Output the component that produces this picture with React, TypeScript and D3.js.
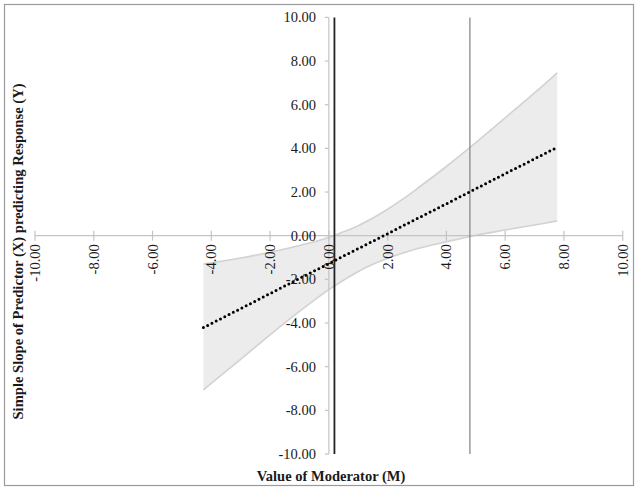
import React, { useEffect, useRef } from 'react'
import * as d3 from 'd3'

// values
const moderatorValues = [-4.27, -3, -2, -1, 0, 0.5, 1, 1.5, 2, 2.5, 3, 4, 5, 6, 7, 7.77]
const slopeValues = [-4.21, -3.34, -2.65, -1.96, -1.28, -0.93, -0.59, -0.25, 0.09, 0.44, 0.78, 1.46, 2.15, 2.84, 3.52, 4.05]
const upperCI = [-1.3, -1.02, -0.76, -0.45, -0.08, 0.18, 0.46, 0.81, 1.21, 1.66, 2.15, 3.17, 4.26, 5.4, 6.54, 7.46]
const lowerCI = [-7.06, -5.66, -4.54, -3.47, -2.47, -2.04, -1.64, -1.31, -1.03, -0.8, -0.6, -0.28, 0.02, 0.26, 0.49, 0.68]
const regionBounds = [0.19, 4.8]
const axisTicks = [-10, -8, -6, -4, -2, 0, 2, 4, 6, 8, 10]
const xTitle = 'Value of Moderator (M)'
const yTitle = 'Simple Slope of Predictor (X) predicting Response (Y)'

const W = 638
const H = 489
const FONT = '"Liberation Serif", "Times New Roman", serif'

export default function App() {
  const ref = useRef<SVGSVGElement>(null)

  useEffect(() => {
    const svg = d3.select(ref.current)
    svg.selectAll('*').remove()

    const x = d3.scaleLinear().domain([-10, 10]).range([35, 622.7])
    const y = d3.scaleLinear().domain([-10, 10]).range([454, 17.4])
    // plain hyphen minus like the original, not d3's unicode minus
    const fmt = (d: number) => d.toFixed(2)

    // frame
    svg.append('rect')
      .attr('x', 4.5).attr('y', 4.5)
      .attr('width', 629).attr('height', 481)
      .attr('fill', 'white')
      .attr('stroke', '#9a9a9a')
      .attr('stroke-width', 1.2)

    const pts = moderatorValues.map((m, i) => ({ m, v: slopeValues[i], lo: lowerCI[i], hi: upperCI[i] }))

    // confidence band
    const area = d3.area<any>()
      .x(d => x(d.m))
      .y0(d => y(d.lo))
      .y1(d => y(d.hi))
      .curve(d3.curveCatmullRom)
    svg.append('path')
      .attr('d', area(pts))
      .attr('fill', '#ececec')

    const edge = (key: string) => d3.line<any>()
      .x(d => x(d.m))
      .y(d => y(d[key]))
      .curve(d3.curveCatmullRom)
    ;['hi', 'lo'].forEach(k => {
      svg.append('path')
        .attr('d', edge(k)(pts))
        .attr('fill', 'none')
        .attr('stroke', '#d2d2d2')
        .attr('stroke-width', 1.6)
    })

    // x axis
    svg.append('line')
      .attr('x1', x(-10)).attr('x2', x(10))
      .attr('y1', y(0)).attr('y2', y(0))
      .attr('stroke', '#c4c4c4').attr('stroke-width', 1.2)
    svg.selectAll('.xtick')
      .data(axisTicks)
      .enter()
      .append('line')
      .attr('class', 'xtick')
      .attr('x1', d => x(d)).attr('x2', d => x(d))
      .attr('y1', y(0) - 5).attr('y2', y(0) + 5)
      .attr('stroke', '#c4c4c4').attr('stroke-width', 1.2)

    // y axis
    svg.append('line')
      .attr('x1', x(0)).attr('x2', x(0))
      .attr('y1', y(10)).attr('y2', y(-10))
      .attr('stroke', '#c4c4c4').attr('stroke-width', 1.2)
    svg.selectAll('.ytick')
      .data(axisTicks)
      .enter()
      .append('line')
      .attr('class', 'ytick')
      .attr('x1', x(0) - 4).attr('x2', x(0))
      .attr('y1', d => y(d)).attr('y2', d => y(d))
      .attr('stroke', '#c4c4c4').attr('stroke-width', 1.2)

    // region boundaries
    svg.append('line')
      .attr('x1', x(regionBounds[0])).attr('x2', x(regionBounds[0]))
      .attr('y1', y(10)).attr('y2', y(-10))
      .attr('stroke', '#222').attr('stroke-width', 1.8)
    svg.append('line')
      .attr('x1', x(regionBounds[1])).attr('x2', x(regionBounds[1]))
      .attr('y1', y(10)).attr('y2', y(-10))
      .attr('stroke', '#808080').attr('stroke-width', 1.2)

    // simple slope line
    const line = d3.line<any>().x(d => x(d.m)).y(d => y(d.v))
    svg.append('path')
      .attr('d', line(pts))
      .attr('fill', 'none')
      .attr('stroke', '#000')
      .attr('stroke-width', 3)
      .attr('stroke-linecap', 'round')
      .attr('stroke-dasharray', '0 4.8')

    // tick labels
    svg.selectAll('.ylab')
      .data(axisTicks)
      .enter()
      .append('text')
      .attr('class', 'ylab')
      .attr('x', 316)
      .attr('y', d => y(d))
      .attr('dominant-baseline', 'central')
      .attr('text-anchor', 'end')
      .attr('font-family', FONT)
      .attr('font-size', 14.5)
      .attr('fill', '#1a1a1a')
      .text(d => fmt(d))

    svg.selectAll('.xlab')
      .data(axisTicks)
      .enter()
      .append('text')
      .attr('class', 'xlab')
      .attr('transform', d => `translate(${x(d)},${y(0) + 8.5}) rotate(-90)`)
      .attr('dominant-baseline', 'central')
      .attr('text-anchor', 'end')
      .attr('font-family', FONT)
      .attr('font-size', 14.5)
      .attr('fill', '#1a1a1a')
      .text(d => fmt(d))

    // titles
    svg.append('text')
      .attr('x', 331).attr('y', 476)
      .attr('dominant-baseline', 'central')
      .attr('text-anchor', 'middle')
      .attr('font-family', FONT)
      .attr('font-weight', 'bold')
      .attr('font-size', 14.5)
      .attr('fill', '#1a1a1a')
      .text(xTitle)
    svg.append('text')
      .attr('transform', 'translate(18,251.5) rotate(-90)')
      .attr('dominant-baseline', 'central')
      .attr('text-anchor', 'middle')
      .attr('font-family', FONT)
      .attr('font-weight', 'bold')
      .attr('font-size', 14.6)
      .attr('fill', '#1a1a1a')
      .text(yTitle)
  }, [])

  return (
    <svg
      ref={ref}
      width={W}
      height={H}
      style={{ position: 'absolute', left: 0, top: 0, background: 'white' }}
    />
  )
}
